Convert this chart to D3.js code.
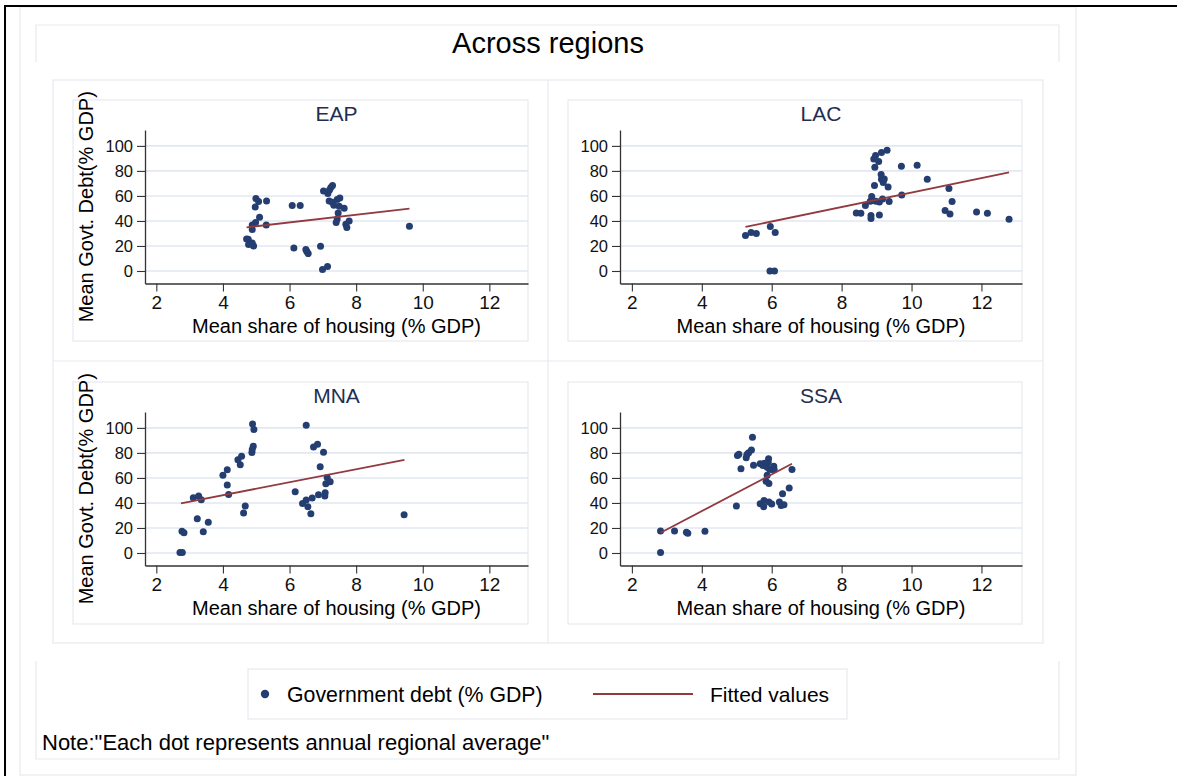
<!DOCTYPE html>
<html>
<head>
<meta charset="utf-8">
<script src="https://cdn.jsdelivr.net/npm/d3@7"></script>
<style>
  html, body { margin: 0; padding: 0; background: #ffffff; }
  svg { display: block; font-family: "Liberation Sans", Arial, Helvetica, sans-serif; }
</style>
</head>
<body>
<script>
// Regions shown, one panel each
const categories = ["EAP", "LAC", "MNA", "SSA"];

// Annual regional averages: [housing share % GDP, government debt % GDP]
const eapPoints = [
  [4.71, 25.6], [4.76, 25.3], [4.77, 21.1], [4.88, 22.4], [4.92, 20.0],
  [4.88, 33.1], [4.88, 36.8], [4.98, 38.7], [5.10, 42.9], [4.97, 51.2],
  [4.99, 57.9], [5.07, 55.5], [5.31, 56.0], [5.30, 36.8], [6.08, 52.3],
  [6.32, 52.3], [6.13, 18.4], [6.49, 17.1], [6.52, 15.5], [6.56, 13.9],
  [6.93, 19.7], [6.99, 1.1], [7.14, 3.5], [7.02, 64.0], [7.15, 61.9],
  [7.20, 64.8], [7.24, 66.7], [7.29, 68.3], [7.19, 56.0], [7.28, 54.9],
  [7.33, 52.5], [7.43, 57.1], [7.51, 58.4], [7.49, 51.7], [7.64, 50.1],
  [7.46, 46.4], [7.43, 41.6], [7.40, 38.7], [7.69, 37.3], [7.72, 34.7],
  [7.79, 40.0], [9.60, 35.7]
];
const lacPoints = [
  [5.25, 28.3], [5.41, 30.7], [5.56, 29.9], [5.96, 35.5], [6.10, 30.7],
  [5.95, 0.0], [6.08, 0.0], [8.42, 46.4], [8.55, 46.1], [8.68, 52.3],
  [8.82, 55.7], [8.86, 59.5], [8.84, 44.3], [8.84, 41.9], [9.08, 44.8],
  [8.98, 55.7], [9.08, 55.2], [9.17, 57.6], [9.36, 55.5], [8.94, 68.3],
  [9.19, 70.7], [9.14, 73.3], [9.22, 73.6], [9.13, 77.1], [9.33, 67.2],
  [8.95, 82.9], [8.92, 89.6], [8.97, 92.3], [9.06, 87.5], [9.14, 94.7],
  [9.30, 96.5], [9.71, 83.7], [9.72, 60.8], [10.16, 84.5], [10.45, 73.3],
  [10.96, 48.3], [11.10, 45.6], [11.07, 65.9], [11.16, 55.5], [11.86, 47.2],
  [12.17, 46.1], [12.79, 41.3]
];
const mnaPoints = [
  [2.71, 0.3], [2.78, 0.3], [2.77, 17.3], [2.83, 16.2], [3.11, 44.1],
  [3.27, 45.5], [3.35, 42.6], [3.23, 27.4], [3.41, 17.0], [3.56, 24.5],
  [4.00, 62.2], [4.13, 66.5], [4.13, 54.3], [4.17, 46.8], [4.45, 74.5],
  [4.56, 77.4], [4.52, 70.5], [4.67, 37.5], [4.62, 31.9], [4.87, 80.3],
  [4.88, 82.7], [4.91, 85.4], [4.89, 103.2], [4.93, 98.7], [6.17, 48.9],
  [6.39, 39.6], [6.50, 42.3], [6.55, 37.0], [6.64, 31.4], [6.68, 43.9],
  [6.87, 46.5], [7.06, 45.5], [7.07, 48.1], [7.09, 55.3], [7.13, 60.4],
  [7.22, 56.9], [6.92, 68.9], [6.72, 84.8], [6.84, 87.0], [7.02, 80.6],
  [6.50, 102.1], [9.44, 30.6]
];
const ssaPoints = [
  [2.82, 0.3], [2.82, 17.6], [3.22, 17.6], [3.56, 16.5], [3.60, 15.7],
  [4.09, 17.3], [4.99, 37.5], [5.12, 67.3], [5.02, 77.9], [5.06, 79.0],
  [5.27, 76.1], [5.29, 78.7], [5.34, 80.1], [5.42, 82.4], [5.45, 92.6],
  [5.48, 70.2], [5.67, 71.3], [5.75, 69.9], [5.80, 71.8], [5.87, 68.6],
  [5.91, 75.3], [5.90, 72.6], [5.87, 62.2], [5.94, 67.0], [6.00, 66.8],
  [6.06, 69.4], [6.07, 66.8], [5.84, 57.3], [5.92, 55.6], [5.67, 39.4],
  [5.78, 42.0], [5.77, 37.0], [5.92, 40.7], [6.00, 39.1], [6.22, 40.7],
  [6.27, 38.0], [6.35, 38.6], [6.31, 47.3], [6.50, 51.9], [6.58, 66.8]
];

// Fitted values: end points of each region's fitted line
const eapFit = [[4.71, 34.9], [9.60, 49.9]];
const lacFit = [[5.25, 35.2], [12.79, 78.9]];
const mnaFit = [[2.74, 39.6], [9.45, 74.5]];
const ssaFit = [[2.82, 16.2], [6.58, 71.3]];

// Axis ticks
const xTicks = [2, 4, 6, 8, 10, 12];
const yTicks = [0, 20, 40, 60, 80, 100];

// Texts
const chartTitle = "Across regions";
const xTitle = "Mean share of housing (% GDP)";
const yTitle = "Mean Govt. Debt(% GDP)";
const legendLabels = ["Government debt (% GDP)", "Fitted values"];
const noteText = "Note:\"Each dot represents annual regional average\"";

// ---- drawing ----
const W = 1177, H = 776;
const frame = "#e6e9f1";
const gridColor = "#e2e7f0";
const markerColor = "#243e71";
const fitColor = "#923a40";
const subtitleColor = "#1f2e51";

const svg = d3.select("body").append("svg")
  .attr("width", W).attr("height", H);

svg.append("rect").attr("width", W).attr("height", H).attr("fill", "#fff");

// region outlines
svg.append("rect").attr("x", 20).attr("y", 7).attr("width", 1056).attr("height", 768)
  .attr("fill", "none").attr("stroke", frame).attr("stroke-width", 1.2);
svg.append("path").attr("d", "M36,62V25H1059V62")
  .attr("fill", "none").attr("stroke", frame).attr("stroke-width", 1.2);
svg.append("rect").attr("x", 53).attr("y", 80).attr("width", 990).attr("height", 563)
  .attr("fill", "none").attr("stroke", frame).attr("stroke-width", 1.2);
svg.append("path").attr("d", "M548,80V643M53,361H1043")
  .attr("fill", "none").attr("stroke", frame).attr("stroke-width", 1.2);
svg.append("path").attr("d", "M36,661V759H1059V661")
  .attr("fill", "none").attr("stroke", frame).attr("stroke-width", 1.2);

// black frame
svg.append("path").attr("d", "M5,776V6H1177")
  .attr("fill", "none").attr("stroke", "#000").attr("stroke-width", 2);

// title
svg.append("text").attr("x", 548).attr("y", 53).attr("text-anchor", "middle")
  .attr("font-size", 29).attr("fill", "#000").text(chartTitle);

const panels = [
  { name: categories[0], pts: eapPoints, fit: eapFit, col: 0, row: 0 },
  { name: categories[1], pts: lacPoints, fit: lacFit, col: 1, row: 0 },
  { name: categories[2], pts: mnaPoints, fit: mnaFit, col: 0, row: 1 },
  { name: categories[3], pts: ssaPoints, fit: ssaFit, col: 1, row: 1 }
];

const colBox = [[73, 528], [568, 1022]];
const colPlot = [[145, 528], [620, 1022]];
const rowShift = [0, 282];

panels.forEach(p => {
  const dy = rowShift[p.row];
  const bx = colBox[p.col];
  // inner panel outline
  svg.append("rect").attr("x", bx[0]).attr("y", 100 + dy)
    .attr("width", bx[1] - bx[0]).attr("height", 241 + (p.row ? 1 : 0))
    .attr("fill", "none").attr("stroke", frame).attr("stroke-width", 1.2);

  const xr = colPlot[p.col];
  const x = d3.scaleLinear().domain([1.66, 13.16]).range(xr);
  const y = d3.scaleLinear().domain([-10, 112.7]).range([283.5 + dy, 130 + dy]);

  const g = svg.append("g");

  // gridlines
  g.selectAll("line.grid").data(yTicks).join("line")
    .attr("class", "grid")
    .attr("x1", xr[0]).attr("x2", xr[1])
    .attr("y1", d => y(d)).attr("y2", d => y(d))
    .attr("stroke", gridColor).attr("stroke-width", 1.6);

  // axes
  const ya = g.append("g").attr("transform", `translate(${xr[0]},0)`)
    .call(d3.axisLeft(y).tickValues(yTicks).tickSizeInner(8).tickSizeOuter(0).tickPadding(4));
  ya.selectAll("text").attr("font-size", 16.5).attr("fill", "#111")
    .attr("font-family", "Liberation Sans, Arial, sans-serif");
  const xa = g.append("g").attr("transform", `translate(0,${283.5 + dy})`)
    .call(d3.axisBottom(x).tickValues(xTicks).tickSizeInner(8).tickSizeOuter(0).tickPadding(4));
  xa.selectAll("text").attr("font-size", 19).attr("fill", "#111")
    .attr("font-family", "Liberation Sans, Arial, sans-serif");
  [ya, xa].forEach(a => {
    a.select(".domain").attr("stroke", "#333").attr("stroke-width", 1.3);
    a.selectAll(".tick line").attr("stroke", "#333").attr("stroke-width", 1.1);
  });

  // points
  g.selectAll("circle").data(p.pts).join("circle")
    .attr("cx", d => x(d[0])).attr("cy", d => y(d[1]))
    .attr("r", 3.5).attr("fill", markerColor);

  // fitted line
  g.append("path").datum(p.fit)
    .attr("d", d3.line().x(d => x(d[0])).y(d => y(d[1])))
    .attr("fill", "none").attr("stroke", fitColor).attr("stroke-width", 1.8);

  // subtitle
  const cx = (xr[0] + xr[1]) / 2;
  svg.append("text").attr("x", cx).attr("y", 121 + dy).attr("text-anchor", "middle")
    .attr("font-size", 21).attr("fill", subtitleColor).text(p.name);

  // axis titles
  svg.append("text").attr("x", cx).attr("y", 333 + dy).attr("text-anchor", "middle")
    .attr("font-size", 20).attr("fill", "#000").text(xTitle);
  if (p.col === 0) {
    const cy = (130 + 283.5) / 2 + dy;
    svg.append("text").attr("transform", `translate(93,${cy}) rotate(-90)`)
      .attr("text-anchor", "middle").attr("font-size", 20).attr("fill", "#000").text(yTitle);
  }
});

// legend
svg.append("rect").attr("x", 248).attr("y", 669).attr("width", 599).attr("height", 50)
  .attr("fill", "none").attr("stroke", frame).attr("stroke-width", 1.2);
svg.append("circle").attr("cx", 265).attr("cy", 694).attr("r", 4.2).attr("fill", markerColor);
svg.append("text").attr("x", 287).attr("y", 701.5).attr("font-size", 21.3).attr("fill", "#000")
  .text(legendLabels[0]);
svg.append("line").attr("x1", 593).attr("x2", 693).attr("y1", 694).attr("y2", 694)
  .attr("stroke", fitColor).attr("stroke-width", 2);
svg.append("text").attr("x", 710).attr("y", 701.5).attr("font-size", 21).attr("fill", "#000")
  .text(legendLabels[1]);

// note
svg.append("text").attr("x", 42).attr("y", 750).attr("font-size", 22).attr("fill", "#000")
  .text(noteText);
</script>
</body>
</html>
